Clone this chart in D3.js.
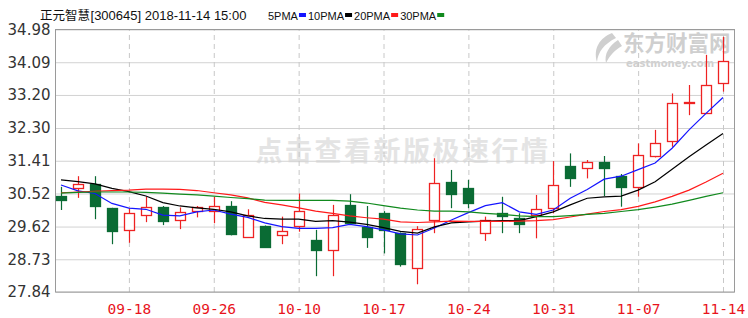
<!DOCTYPE html>
<meta charset="utf-8">
<head>
  <meta charset="UTF-8">
  <title>正元智慧[300645] 日K</title>
  <style>
    body { margin: 0; background: #fff; }
    svg { display: block; }
  </style>
</head>
<body>
<script src="https://d3js.org/d3.v7.min.js"></script>

<div id="kline"></div>

<script>

// trading days shown
var dates = ["09-12", "09-13", "09-14", "09-17", "09-18", "09-19", "09-20", "09-21", "09-25", "09-26",
             "09-27", "09-28", "10-08", "10-09", "10-10", "10-11", "10-12", "10-15", "10-16", "10-17",
             "10-18", "10-19", "10-22", "10-23", "10-24", "10-25", "10-26", "10-29", "10-30", "10-31",
             "11-01", "11-02", "11-05", "11-06", "11-07", "11-08", "11-09", "11-12", "11-13", "11-14"];

var openP  = [30.46, 30.65, 30.77, 30.13, 29.53, 29.93, 30.14, 29.80, 30.04, 30.04,
              30.18, 29.34, 29.63, 29.39, 29.63, 29.25, 28.98, 30.22, 29.62, 29.98,
              29.44, 28.50, 29.80, 30.84, 30.68, 29.44, 30.00, 29.84, 29.93, 30.12,
              31.27, 31.23, 31.38, 31.00, 30.70, 31.52, 31.93, 32.97, 32.70, 33.52];
var highP  = [30.70, 30.99, 30.99, 30.13, 30.12, 30.43, 30.18, 30.14, 30.18, 30.43,
              30.31, 30.09, 29.65, 29.89, 30.52, 29.53, 30.21, 30.50, 30.18, 30.04,
              29.46, 29.63, 31.48, 31.16, 30.89, 29.89, 30.43, 29.98, 30.48, 31.40,
              31.61, 31.43, 31.54, 31.05, 31.88, 32.25, 33.24, 33.47, 34.29, 34.78];
var lowP   = [30.07, 30.40, 29.82, 29.14, 29.18, 29.74, 29.66, 29.55, 29.87, 29.71,
              29.38, 29.32, 29.04, 29.14, 29.48, 28.27, 28.27, 29.71, 29.04, 28.89,
              28.53, 28.05, 29.44, 30.12, 30.12, 29.23, 29.44, 29.44, 29.30, 29.98,
              30.70, 30.93, 30.45, 30.16, 30.43, 31.50, 31.79, 32.65, 32.68, 33.29];
var closeP = [30.36, 30.77, 30.16, 29.51, 29.98, 30.16, 29.75, 30.01, 30.14, 30.17,
              29.42, 29.93, 29.07, 29.50, 30.04, 28.98, 29.93, 29.74, 29.34, 29.53,
              28.59, 29.56, 30.80, 30.52, 30.28, 29.80, 29.91, 29.69, 30.09, 30.75,
              30.93, 31.38, 31.22, 30.69, 31.57, 31.88, 32.97, 33.01, 33.47, 34.12];

// moving averages as printed on the chart
var ma5  = [30.75, 30.59, 30.52, 30.25, 30.12, 30.09, 29.93, 29.91, 30.02, 30.07,
            29.96, 29.87, 29.72, 29.62, 29.57, 29.57, 29.59, 29.68, 29.62, 29.53,
            29.42, 29.39, 29.58, 29.80, 30.00, 30.19, 30.27, 30.02, 29.95, 30.07,
            30.39, 30.63, 30.91, 30.99, 31.17, 31.35, 31.75, 32.25, 32.70, 33.13];
var ma10 = [30.89, 30.84, 30.78, 30.66, 30.57, 30.45, 30.27, 30.18, 30.13, 30.09,
            30.02, 29.91, 29.84, 29.82, 29.82, 29.76, 29.78, 29.74, 29.68, 29.59,
            29.49, 29.44, 29.61, 29.72, 29.75, 29.77, 29.78, 29.78, 29.89, 30.02,
            30.21, 30.39, 30.43, 30.45, 30.61, 30.84, 31.18, 31.52, 31.84, 32.15];
var ma20 = [30.54, 30.56, 30.58, 30.60, 30.61, 30.64, 30.64, 30.63, 30.60, 30.54,
            30.48, 30.40, 30.28, 30.21, 30.13, 30.04, 29.98, 29.91, 29.86, 29.82,
            29.75, 29.73, 29.75, 29.77, 29.76, 29.76, 29.76, 29.77, 29.78, 29.81,
            29.88, 29.96, 30.03, 30.08, 30.17, 30.29, 30.44, 30.61, 30.83, 31.07];
var ma30 = [30.53, 30.55, 30.56, 30.56, 30.56, 30.55, 30.53, 30.50, 30.48, 30.45,
            30.41, 30.38, 30.34, 30.33, 30.33, 30.33, 30.33, 30.31, 30.26, 30.19,
            30.12, 30.07, 30.04, 30.04, 30.02, 29.98, 29.95, 29.91, 29.89, 29.89,
            29.92, 29.95, 29.98, 30.03, 30.08, 30.15, 30.23, 30.33, 30.44, 30.54];

var yTicks = [27.84, 28.73, 29.62, 30.52, 31.41, 32.30, 33.20, 34.09, 34.98];
var xTicks = ["09-18", "09-26", "10-10", "10-17", "10-24", "10-31", "11-07", "11-14"];

var maNames  = ["5PMA", "10PMA", "20PMA", "30PMA"];
var maColors = ["#1515ff", "#000000", "#ff1a1a", "#118a1e"];

var width = 748, height = 318;
var plotL = 55.5, plotR = 734.5, plotT = 29.5, plotB = 292;

var upColor = "#ee2222", downColor = "#0a6b34";
var plain = "'Liberation Sans', Arial, sans-serif";

var svg = d3.select("#kline").append("svg")
    .attr("width", width)
    .attr("height", height);

var x = d3.scalePoint()
    .domain(dates)
    .range([61, 723]);

var y = d3.scaleLinear()
    .domain([yTicks[0], yTicks[yTicks.length - 1]])
    .range([plotB, plotT]);

// watermarks
svg.append("text")
    .attr("x", 403)
    .attr("y", 161)
    .attr("text-anchor", "middle")
    .style("font-family", "'Noto Sans CJK SC', sans-serif")
    .style("font-weight", "bold")
    .style("font-size", "27px")
    .style("letter-spacing", "2.5px")
    .style("fill", "#e4e4e4")
    .text("点击查看新版极速行情");

var logo = svg.append("g").style("fill", "#cfcfcf");
logo.append("path")
    .attr("d", "M612,33 C600,38 593,48 597,62 C598,52 604,44 616,38 Z M618,40 C609,46 604,54 606,63 C610,55 615,50 622,46 Z");
logo.append("text")
    .attr("x", 623)
    .attr("y", 51)
    .style("font-family", "'Noto Sans CJK SC', sans-serif")
    .style("font-weight", "bold")
    .style("font-size", "21.5px")
    .text("东方财富网");
logo.append("text")
    .attr("x", 626)
    .attr("y", 66.5)
    .style("font-family", "Verdana, 'DejaVu Sans', sans-serif")
    .style("font-weight", "bold")
    .style("font-size", "10px")
    .text("eastmoney.com");

// y grid + labels
var yAxis = svg.append("g")
    .attr("transform", "translate(" + plotL + ",0)")
    .call(d3.axisLeft(y)
        .tickValues(yTicks)
        .tickSize(-(plotR - plotL))
        .tickPadding(5)
        .tickFormat(d3.format(".2f")));
yAxis.select(".domain").remove();
yAxis.selectAll("line").attr("stroke", "#d2d2d2");
yAxis.selectAll("text")
    .style("font-family", "'DejaVu Sans', Tahoma, sans-serif")
    .style("font-size", "15px")
    .style("fill", "#333");

// x dashed grid + date labels
var xAxis = svg.append("g")
    .attr("transform", "translate(0," + plotB + ")")
    .call(d3.axisBottom(x)
        .tickValues(xTicks)
        .tickSize(-(plotB - plotT))
        .tickPadding(12));
xAxis.select(".domain").remove();
xAxis.selectAll("line")
    .attr("stroke", "#c8c8c8")
    .attr("stroke-dasharray", "5,4");
xAxis.selectAll("text")
    .style("font-family", "'DejaVu Sans Mono', monospace")
    .style("font-size", "14.5px")
    .style("fill", "#e8141c");

// frame
svg.append("rect")
    .attr("x", plotL)
    .attr("y", plotT)
    .attr("width", plotR - plotL)
    .attr("height", plotB - plotT)
    .attr("fill", "none")
    .attr("stroke", "#9a9a9a");

// candles
var candles = dates.map(function(d, i) {
  return {date: d, open: openP[i], high: highP[i], low: lowP[i], close: closeP[i]};
});

var bodyW = 10;

var candle = svg.append("g").selectAll(".candle")
    .data(candles)
    .enter().append("g")
      .attr("class", "candle")
      .attr("transform", function(d) { return "translate(" + (Math.round(x(d.date)) + 0.5) + ",0)"; });

candle.append("line")
    .attr("y1", function(d) { return y(d.high); })
    .attr("y2", function(d) { return y(d.low); })
    .attr("stroke", function(d) { return d.close >= d.open ? upColor : downColor; })
    .attr("stroke-width", 1.2);

candle.append("rect")
    .attr("x", -bodyW / 2)
    .attr("y", function(d) { return Math.round(y(Math.max(d.open, d.close))) + 0.5; })
    .attr("width", bodyW)
    .attr("height", function(d) { return Math.max(1, Math.round(Math.abs(y(d.open) - y(d.close)))); })
    .attr("fill", function(d) { return d.close >= d.open ? "#fff" : downColor; })
    .attr("stroke", function(d) { return d.close >= d.open ? upColor : downColor; })
    .attr("stroke-width", 1.3);

// moving average lines
var line = d3.line()
    .x(function(d, i) { return x(dates[i]); })
    .y(function(d) { return y(d); });

[ma5, ma10, ma20, ma30].forEach(function(series, k) {
  svg.append("path")
      .datum(series)
      .attr("fill", "none")
      .attr("stroke", maColors[k])
      .attr("stroke-width", 1.2)
      .attr("d", line);
});

// title + legend
var title = svg.append("text")
    .attr("x", 40)
    .attr("y", 20)
    .style("font-family", "'Noto Sans CJK SC', sans-serif")
    .style("font-size", "12.5px")
    .style("fill", "#111")
    .text("正元智慧");
var titleEnd = 40 + title.node().getComputedTextLength();

svg.append("text")
    .attr("x", titleEnd + 0.5)
    .attr("y", 20)
    .style("font-family", plain)
    .style("font-size", "13px")
    .style("fill", "#111")
    .text("[300645] 2018-11-14 15:00");

var legendPos = 268;
maNames.forEach(function(name, k) {
  var t = svg.append("text")
      .attr("x", legendPos)
      .attr("y", 19.5)
      .style("font-family", plain)
      .style("font-size", "11px")
      .style("fill", "#111")
      .text(name);
  legendPos += t.node().getComputedTextLength() + 1;
  svg.append("rect")
      .attr("x", legendPos)
      .attr("y", 13)
      .attr("width", 7)
      .attr("height", 4)
      .attr("fill", maColors[k]);
  legendPos += 7 + 2;
});

</script>
</body>
